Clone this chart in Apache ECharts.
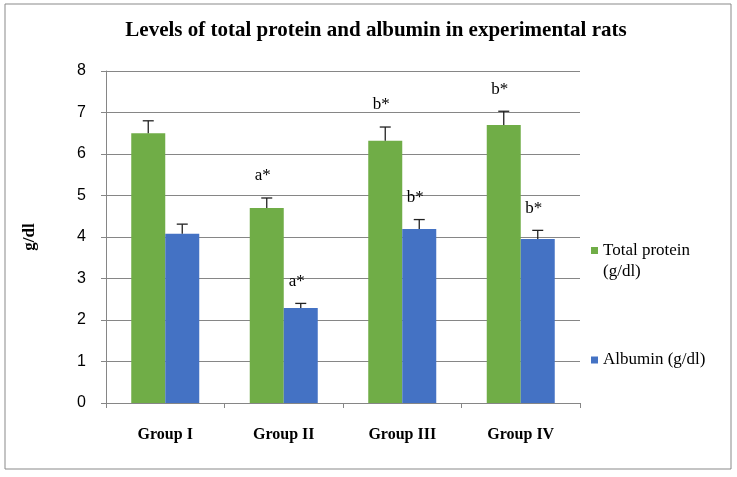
<!DOCTYPE html>
<html><head><meta charset="utf-8">
<script src="https://cdn.jsdelivr.net/npm/echarts@6/dist/echarts.min.js"></script>
<style>html,body{margin:0;padding:0;background:#fff}#c{width:737px;height:477px}</style>
</head><body><div id="c"></div>
<script>
var categories = ['Group I', 'Group II', 'Group III', 'Group IV'];
var proteinVals = [6.5, 4.7, 6.32, 6.7];
var proteinErr = [0.3, 0.24, 0.33, 0.33];
var proteinMarks = ['', 'a*', 'b*', 'b*'];
var albuminVals = [4.08, 2.29, 4.19, 3.95];
var albuminErr = [0.23, 0.11, 0.23, 0.21];
var albuminMarks = ['', 'a*', 'b*', 'b*'];
var yTicks = [0, 1, 2, 3, 4, 5, 6, 7, 8];

var BW = 34;
var serif = 'Liberation Serif';

function errSeries(vals, errs, marks, dx) {
  return {
    type: 'custom',
    silent: true,
    z: 5,
    data: vals.map(function (v, i) { return [i, v, errs[i]]; }),
    renderItem: function (params, api) {
      var i = api.value(0), v = api.value(1), e = api.value(2);
      var base = api.coord([i, v]);
      var top = api.coord([i, v + e]);
      var x = base[0] + dx;
      var mark = marks[params.dataIndex];
      var children = [
        { type: 'line', shape: { x1: x, y1: base[1], x2: x, y2: top[1] }, style: { stroke: '#222', lineWidth: 1.3 } },
        { type: 'line', shape: { x1: x - 5.5, y1: top[1], x2: x + 5.5, y2: top[1] }, style: { stroke: '#222', lineWidth: 1.3 } }
      ];
      if (mark) {
        children.push({ type: 'text', style: { text: mark, x: x - 4, y: top[1] - 22, align: 'center', verticalAlign: 'middle', font: '17px "' + serif + '"', fill: '#000' } });
      }
      return { type: 'group', children: children };
    }
  };
}

var tallIcon = 'path://M0,0L10,0L10,10L0,10Z M0,40L0.01,40L0.01,40.01Z';

var chart = echarts.init(document.getElementById('c'));
chart.setOption({
  animation: false,
  backgroundColor: '#fff',
  graphic: [{ type: 'rect', shape: { x: 5, y: 4, width: 726, height: 465 }, style: { fill: 'none', stroke: '#898989', lineWidth: 1 }, z: -1 }],
  title: {
    text: 'Levels of total protein and albumin in experimental rats',
    left: 371, top: 15, textAlign: 'center',
    textStyle: { fontFamily: serif, fontWeight: 'bold', fontSize: 21, color: '#000' }
  },
  grid: { left: 106, right: 157, top: 71, bottom: 74 },
  legend: [{
    orient: 'vertical', left: 591, top: 240, padding: 0,
    itemWidth: 7, itemHeight: 28, selectedMode: false,
    data: [{ name: 'Total protein (g/dl)', icon: tallIcon }],
    formatter: function () { return 'Total protein\n(g/dl)'; },
    textStyle: { fontFamily: serif, fontSize: 17, color: '#000', lineHeight: 21 }
  }, {
    orient: 'vertical', left: 591, top: 349.5, padding: 0,
    itemWidth: 7, itemHeight: 7, selectedMode: false,
    data: [{ name: 'Albumin (g/dl)', icon: 'rect' }],
    textStyle: { fontFamily: serif, fontSize: 17, color: '#000', lineHeight: 21 }
  }],
  xAxis: {
    type: 'category', data: categories,
    axisLine: { lineStyle: { color: '#868686' } },
    axisTick: { show: true, length: 5, lineStyle: { color: '#868686' } },
    axisLabel: { fontFamily: serif, fontWeight: 'bold', fontSize: 16, color: '#000', margin: 24 }
  },
  yAxis: {
    type: 'value', min: yTicks[0], max: yTicks[yTicks.length - 1], interval: 1,
    name: 'g/dl', nameLocation: 'middle', nameGap: 68, nameRotate: 90,
    nameTextStyle: { fontFamily: serif, fontWeight: 'bold', fontSize: 17, color: '#000' },
    axisLine: { show: true, lineStyle: { color: '#868686' } },
    axisTick: { show: true, length: 5, lineStyle: { color: '#868686' } },
    splitLine: { lineStyle: { color: '#868686' } },
    axisLabel: { fontFamily: 'Liberation Sans', fontSize: 16, color: '#000', margin: 20 }
  },
  series: [
    { name: 'Total protein (g/dl)', type: 'bar', data: proteinVals, barWidth: BW, barGap: '0%', itemStyle: { color: '#70AD47' } },
    { name: 'Albumin (g/dl)', type: 'bar', data: albuminVals, barWidth: BW, barGap: '0%', itemStyle: { color: '#4472C4' } },
    errSeries(proteinVals, proteinErr, proteinMarks, -BW / 2),
    errSeries(albuminVals, albuminErr, albuminMarks, BW / 2)
  ]
});
</script></body></html>
